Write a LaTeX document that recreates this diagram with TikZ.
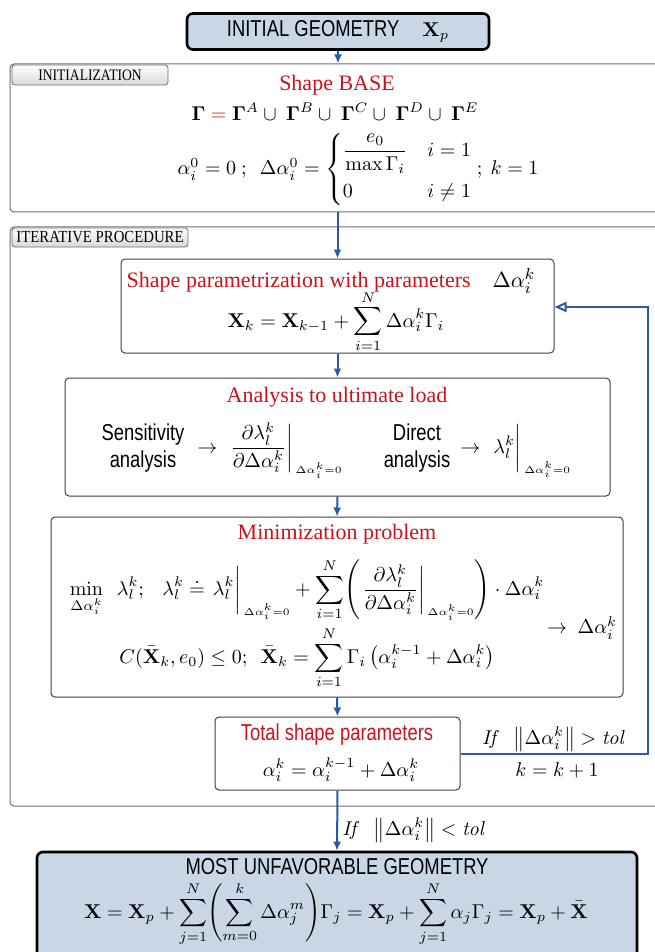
\documentclass[tikz,border=0pt]{standalone}
\usepackage{amsmath,amssymb}
\usepackage{graphicx}
\usepackage[no-math]{fontspec}
\setmainfont{Liberation Serif}
\newfontfamily\sansf{Liberation Sans}
\usetikzlibrary{arrows.meta}
\definecolor{boxblue}{RGB}{200,214,230}
\definecolor{titlered}{RGB}{200,20,30}
\definecolor{arrblue}{RGB}{40,90,165}
\definecolor{framegrey}{RGB}{110,110,110}
\newcommand{\sanstext}[1]{\scalebox{0.8}[1]{\sansf #1}}
\newcommand{\da}{\Delta\alpha_i^k}
\newcommand{\atz}{_{\,\scriptscriptstyle\Delta\alpha_i^k=0}}
\tikzset{
  frame/.style={draw=framegrey, line width=0.5pt, rounded corners=2pt, inner sep=0pt},
  tabbox/.style={draw=framegrey, line width=0.4pt, rounded corners=1.5pt, top color=white, bottom color=black!15, inner sep=0pt},
  stage/.style={draw=black!75, line width=0.5pt, rounded corners=2pt, fill=white, inner sep=0pt},
  endbox/.style={draw=black, line width=1.3pt, rounded corners=3pt, fill=boxblue, inner sep=0pt},
  arr/.style={draw=arrblue, line width=1pt, -{Latex[length=4.5pt,width=4pt]}},
  back/.style={draw=arrblue, line width=1pt, -{Triangle[open,length=6pt,width=5pt,fill=white]}},
  ttl/.style={text=titlered, font=\fontsize{11}{13}\selectfont, inner sep=0pt},
  eq/.style={inner sep=0pt, font=\fontsize{10}{12}\selectfont},
  lbl/.style={inner sep=0pt, font=\fontsize{10}{12}\selectfont},
  sanslbl/.style={inner sep=0pt, font=\fontsize{11.5}{13.5}\selectfont},
}
\begin{document}
\begin{tikzpicture}[x=0.5pt,y=-0.5pt]
\useasboundingbox (0,0) rectangle (654,952);
% frames
\node[frame, minimum width=330pt, minimum height=74pt] (initf) at (340,138) {};
\node[frame, minimum width=330pt, minimum height=289.5pt] (iterf) at (340,516.5) {};
\node[tabbox, minimum width=78pt, minimum height=10pt, font=\fontsize{8}{9}\selectfont] (inittab) at (90,75) {\scalebox{0.85}[1]{INITIALIZATION}};
\node[tabbox, minimum width=88pt, minimum height=9.5pt, font=\fontsize{8.5}{9}\selectfont] (itertab) at (100,237.5) {\scalebox{0.87}[1]{ITERATIVE PROCEDURE}};
% end boxes
\node[endbox, minimum width=151pt, minimum height=18pt, font=\fontsize{11.5}{13}\selectfont] (top) at (338,31.5) {\sanstext{INITIAL GEOMETRY}\quad {\fontsize{10}{12}\selectfont$\mathbf{X}_p$}};
\node[endbox, minimum width=300pt, minimum height=55pt] (most) at (337,907) {};
% stage boxes
\node[stage, minimum width=216.5pt, minimum height=47pt] (param) at (337.5,306) {};
\node[stage, minimum width=272.5pt, minimum height=59pt] (anal) at (337.5,437) {};
\node[stage, minimum width=286pt, minimum height=90pt] (minb) at (337,607) {};
\node[stage, minimum width=122.5pt, minimum height=36.5pt] (total) at (337.5,753.5) {};
% initialization content
\node[ttl, anchor=base] (basettl) at (337,91) {Shape BASE};
\node[eq, anchor=base] (gammaeq) at (335,121) {$\boldsymbol\Gamma\mathrel{\textcolor{titlered}{=}}\boldsymbol\Gamma^A\cup\ \boldsymbol\Gamma^B\cup\ \boldsymbol\Gamma^C\cup\ \boldsymbol\Gamma^D\cup\ \boldsymbol\Gamma^E$};
\node[eq, anchor=base] (alphaeq) at (358,175) {$\alpha_i^0=0\ ;\ \ \Delta\alpha_i^0=\begin{cases}\dfrac{e_0}{\max\Gamma_i} & i=1\\[6pt] 0 & i\neq 1\end{cases};\ k=1$};
% shape parametrization
\node[ttl, anchor=base] (paramttl) at (331,287) {Shape parametrization with parameters\quad\textcolor{black}{$\da$}};
\node[eq, anchor=base] (parameq) at (336,327) {$\displaystyle \mathbf{X}_k=\mathbf{X}_{k-1}+\sum_{i=1}^{N}\Delta\alpha_i^k\Gamma_i$};
% analysis
\node[ttl, anchor=base] (analttl) at (337,402) {Analysis to ultimate load};
\node[sanslbl] (sens) at (143,449) {\sanstext{\begin{tabular}{@{}c@{}}Sensitivity\\analysis\end{tabular}}};
\node[eq, anchor=base west] (senseq) at (197,453) {$\rightarrow\ \left.\dfrac{\partial\lambda_l^k}{\partial\Delta\alpha_i^k}\right|\atz$};
\node[sanslbl] (direct) at (417,449) {\sanstext{\begin{tabular}{@{}c@{}}Direct\\analysis\end{tabular}}};
\node[eq, anchor=base west] (directeq) at (460,453) {$\rightarrow\ \left.\lambda_l^k\vphantom{\dfrac{\partial\lambda}{\partial\Delta\alpha}}\right|\atz$};
% minimization
\node[ttl, anchor=base] (minttl) at (337,539) {Minimization problem};
\node[eq, anchor=base] (mineq1) at (307,595) {$\displaystyle \min_{\Delta\alpha_i^k}\;\ \lambda_l^k;\ \ \ \lambda_l^k\doteq\left.\lambda_l^k\vphantom{\dfrac{\partial\lambda}{\partial\Delta\alpha}}\right|\atz+\sum_{i=1}^{N}\!\left(\left.\dfrac{\partial\lambda_l^k}{\partial\Delta\alpha_i^k}\right|\atz\right)\cdot\Delta\alpha_i^k$};
\node[eq, anchor=base] (mineq2) at (307,663) {$\displaystyle C(\bar{\mathbf{X}}_k,e_0)\le 0;\ \ \bar{\mathbf{X}}_k=\sum_{i=1}^{N}\Gamma_i\left(\alpha_i^{k-1}+\Delta\alpha_i^k\right)$};
\node[eq] (minres) at (582,628) {$\rightarrow\ \Delta\alpha_i^k$};
% total
\node[text=titlered, sanslbl, anchor=base] (totttl) at (337,740) {\sanstext{Total shape parameters}};
\node[eq, anchor=base] (toteq) at (341,776) {$\alpha_i^k=\alpha_i^{k-1}+\Delta\alpha_i^k$};
% most unfavorable
\node[sanslbl, anchor=base] (mostttl) at (337,874) {\sanstext{MOST UNFAVORABLE GEOMETRY}};
\node[eq, anchor=base, font=\fontsize{9.7}{12}\selectfont] (mosteq) at (336,918) {$\displaystyle \mathbf{X}=\mathbf{X}_p+\sum_{j=1}^{N}\!\left(\sum_{m=0}^{k}\Delta\alpha_j^m\right)\!\Gamma_j=\mathbf{X}_p+\sum_{j=1}^{N}\alpha_j\Gamma_j=\mathbf{X}_p+\bar{\mathbf{X}}$};
% connectors
\draw[arr] (top.south) -- (top.south |- initf.north);
\draw[arr] (param.north |- initf.south) -- (param.north);
\draw[arr] (param.south) -- (anal.north);
\draw[arr] (anal.south) -- (minb.north);
\draw[arr] (minb.south) -- (total.north);
\draw[arr] (total.south) -- (most.north);
\coordinate (c1) at (648,754);
\coordinate (c2) at (648,307);
\draw[back] (total.east |- c1) -- (c1) -- (c2) -- (param.east |- c2);
% labels
\node[lbl, anchor=base] (ifgt) at (554,744) {$\mathit{If}\ \ \left\|\Delta\alpha_i^k\right\|>\mathit{tol}$};
\node[lbl, anchor=base] (kinc) at (557,776) {$k=k+1$};
\node[lbl, anchor=base west] (iflt) at (342,835) {$\mathit{If}\ \ \left\|\Delta\alpha_i^k\right\|<\mathit{tol}$};
\end{tikzpicture}
\end{document}
